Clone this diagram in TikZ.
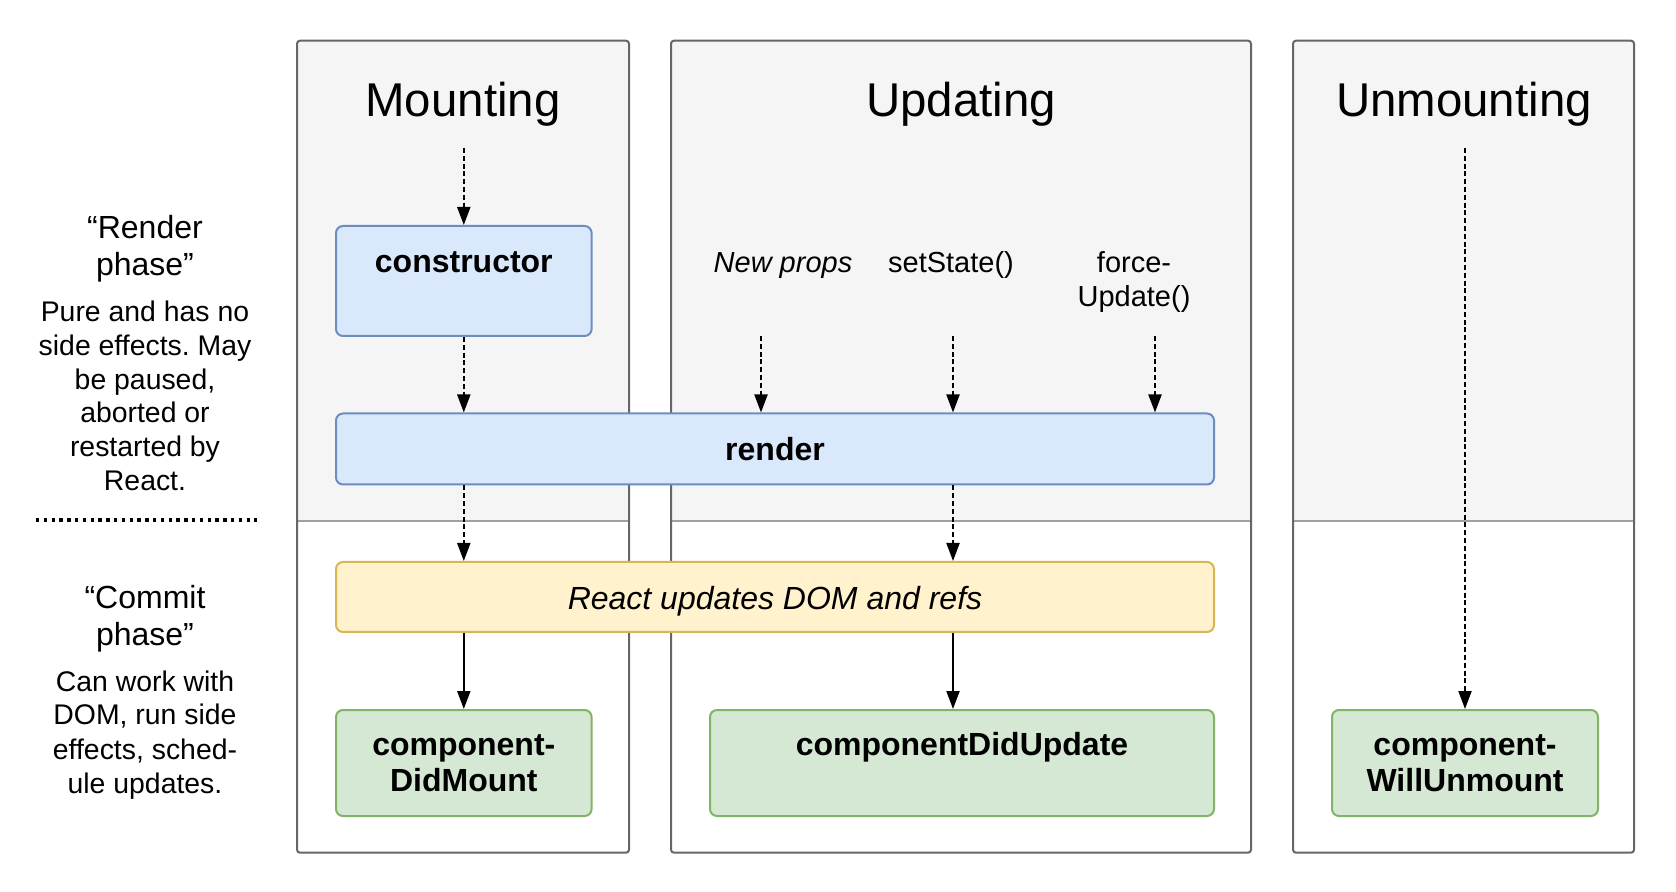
\documentclass[tikz,border=0pt]{standalone}
\usepackage{fontspec}
\setmainfont{Liberation Sans}
\usetikzlibrary{arrows.meta}
\frenchspacing
\definecolor{panelfill}{HTML}{F5F5F5}
\definecolor{paneldraw}{HTML}{666666}
\definecolor{sepline}{HTML}{A0A0A0}
\definecolor{bluefill}{HTML}{DAE8FC}
\definecolor{bluedraw}{HTML}{6C8EBF}
\definecolor{yellowfill}{HTML}{FFF2CC}
\definecolor{yellowdraw}{HTML}{D6B656}
\definecolor{greenfill}{HTML}{D5E8D4}
\definecolor{greendraw}{HTML}{82B366}
\tikzset{
  panelborder/.style={draw=paneldraw, line width=1pt, rounded corners=1.5pt},
  boxbase/.style={rectangle, rounded corners=3.5pt, line width=1pt, inner xsep=2pt, inner ysep=0pt, align=center},
  bluebox/.style={boxbase, fill=bluefill, draw=bluedraw, font=\fontsize{16}{18}\selectfont\bfseries},
  yellowbox/.style={boxbase, fill=yellowfill, draw=yellowdraw, font=\fontsize{16}{18}\selectfont\itshape},
  greenbox/.style={boxbase, fill=greenfill, draw=greendraw, font=\fontsize{16}{18}\selectfont\bfseries},
  titletext/.style={anchor=base, inner sep=0pt, font=\fontsize{23.7}{28}\selectfont},
  headtext/.style={anchor=base, inner sep=0pt, font=\fontsize{16}{19}\selectfont},
  sidetext/.style={anchor=base, inner sep=0pt, font=\fontsize{14.2}{17}\selectfont},
  evtext/.style={anchor=base, inner sep=0pt, font=\fontsize{14.5}{17}\selectfont},
  flow/.style={line width=1pt, -{Triangle[length=9pt,width=6.5pt]}},
  dflow/.style={flow, dash pattern=on 2.5pt off 1.4pt},
  dotline/.style={line width=1.8pt, dash pattern=on 1.7pt off 2.2pt}
}
\begin{document}
\begin{tikzpicture}[x=0.5pt, y=-0.5pt]
\useasboundingbox (0,0) rectangle (1676,892);
% panels
\foreach \l/\r in {297/629, 671/1251, 1293/1634}{
  \fill[panelfill, rounded corners=1.5pt] (\l,40.7) rectangle (\r,852.7);
  \fill[white] (\l,521) rectangle (\r,852.7);
  \draw[sepline, line width=1pt] (\l,521) -- (\r,521);
  \draw[panelborder] (\l,40.7) rectangle (\r,852.7);
}
% titles
\node[titletext] (tmount) at (463,116.7) {Mounting};
\node[titletext] (tupdate) at (961,116.7) {Updating};
\node[titletext] (tunmount) at (1464,116.7) {Unmounting};
% left texts
\node[headtext] (rp1) at (145,239) {“Render};
\node[headtext] (rp2) at (145,276) {phase”};
\node[sidetext] (rs1) at (145,321.7) {Pure and has no};
\node[sidetext] (rs2) at (145,356) {side effects. May};
\node[sidetext] (rs3) at (145,389.5) {be paused,};
\node[sidetext] (rs4) at (145,423) {aborted or};
\node[sidetext] (rs5) at (145,457) {restarted by};
\node[sidetext] (rs6) at (145,491) {React.};
\coordinate (dl1) at (36,520);
\coordinate (dl2) at (257,520);
\draw[dotline] (dl1) -- (dl2);
\node[headtext] (cp1) at (145,609) {“Commit};
\node[headtext] (cp2) at (145,646) {phase”};
\node[sidetext] (cs1) at (145,691) {Can work with};
\node[sidetext] (cs2) at (145,725) {DOM, run side};
\node[sidetext] (cs3) at (145,759) {effects, sched-};
\node[sidetext] (cs4) at (145,793) {ule updates.};
% event labels
\node[evtext, font=\fontsize{14.5}{17}\selectfont\itshape] (enp) at (783,273) {New props};
\node[evtext] (ess) at (951,273) {setState()};
\node[evtext] (efu1) at (1134,273) {force-};
\node[evtext] (efu2) at (1134,307) {Update()};
% boxes
\node[bluebox, anchor=north west, minimum width=127.8pt, text height=23.5pt, text depth=31.5pt] (constr) at (335,225) {constructor};
\node[bluebox, anchor=north west, minimum width=439pt, text height=23.5pt, text depth=12pt] (render) at (335,412.5) {render};
\node[yellowbox, anchor=north west, minimum width=439pt, text height=24pt, text depth=11pt] (react) at (335,561) {React updates DOM and refs};
\node[greenbox, anchor=north west, minimum width=127.8pt, minimum height=53pt] (didmount) at (335,709) {component-\\DidMount};
\node[greenbox, anchor=north west, minimum width=252pt, text height=22.5pt, text depth=30.5pt] (didupdate) at (709,709) {componentDidUpdate};
\node[greenbox, anchor=north west, minimum width=133pt, minimum height=53pt] (willunmount) at (1331,709) {component-\\WillUnmount};
% connectors
\coordinate (mstart) at (constr.north |- 0,148);
\coordinate (ustart) at (1465,148);
\coordinate (np) at (761,336);
\coordinate (ss) at (953,336);
\coordinate (fu) at (1155,336);
\draw[dflow] (mstart) -- (constr.north);
\draw[dflow] (constr.south) -- (constr.south |- render.north);
\draw[dflow] (np) -- (np |- render.north);
\draw[dflow] (ss) -- (ss |- render.north);
\draw[dflow] (fu) -- (fu |- render.north);
\draw[dflow] (constr.south |- render.south) -- (constr.south |- react.north);
\draw[dflow] (ss |- render.south) -- (ss |- react.north);
\draw[flow] (didmount.north |- react.south) -- (didmount.north);
\draw[flow] (ss |- react.south) -- (ss |- didupdate.north);
\draw[dflow] (ustart) -- (ustart |- willunmount.north);
\end{tikzpicture}
\end{document}
